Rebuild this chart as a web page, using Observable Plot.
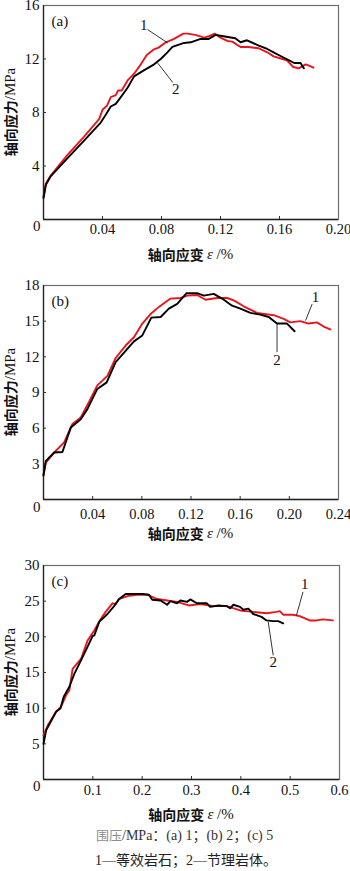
<!DOCTYPE html>
<html>
<head>
<meta charset="utf-8">
<script src="https://cdn.jsdelivr.net/npm/d3@7"></script>
<script src="https://cdn.jsdelivr.net/npm/@observablehq/plot@0.6"></script>
<style>
  html, body { margin: 0; padding: 0; background: #fff; }
  #wrap { position: relative; width: 350px; height: 871px; overflow: hidden; }
  .panel { position: absolute; left: 0; }
  .panel text { font-family: "Liberation Serif", "Times New Roman", serif; }
  .cap { position: absolute; left: 96px; font-family: "Liberation Serif", "Noto Sans CJK SC", serif; font-size: 14px; white-space: nowrap; }
</style>
</head>
<body>
<div id="wrap"></div>
<script>
// ---------- Panel (a): confining pressure 1 MPa ----------
const a1Strain = [0, 0.0016, 0.005, 0.016, 0.0275, 0.0377, 0.040, 0.043, 0.0456, 0.049, 0.0506, 0.053, 0.057, 0.0614, 0.066, 0.070, 0.0745, 0.078, 0.083, 0.0885, 0.0948, 0.0975, 0.103, 0.109, 0.112, 0.116, 0.120, 0.1246, 0.128, 0.1336, 0.139, 0.146, 0.1517, 0.156, 0.162, 0.165, 0.1693, 0.173, 0.1754, 0.1777, 0.180, 0.183];
const a1Stress = [1.7, 2.7, 3.3, 4.8, 6.2, 7.5, 8.2, 8.5, 9.15, 9.3, 9.65, 9.65, 10.4, 10.9, 11.6, 12.3, 12.7, 12.85, 13.25, 13.5, 13.9, 13.9, 13.8, 13.6, 13.7, 13.9, 13.6, 13.35, 13.3, 12.9, 12.9, 12.8, 12.5, 12.2, 12.0, 11.9, 11.4, 11.3, 11.45, 11.6, 11.5, 11.35];
const a2Strain = [0, 0.0016, 0.005, 0.016, 0.0275, 0.0388, 0.042, 0.0456, 0.049, 0.0524, 0.057, 0.0614, 0.068, 0.075, 0.0795, 0.084, 0.0874, 0.0953, 0.0998, 0.1065, 0.112, 0.1167, 0.122, 0.130, 0.1336, 0.138, 0.146, 0.1517, 0.156, 0.162, 0.1665, 0.170, 0.1743, 0.1754, 0.1765];
const a2Stress = [1.6, 2.6, 3.25, 4.55, 5.9, 7.25, 7.8, 8.45, 8.65, 9.15, 9.85, 10.7, 11.15, 11.6, 12.0, 12.5, 12.9, 13.2, 13.25, 13.5, 13.5, 13.8, 13.7, 13.55, 13.25, 13.4, 13.0, 12.75, 12.5, 12.15, 11.9, 11.7, 11.7, 11.5, 11.3];
const aXTicks = [0.04, 0.08, 0.12, 0.16, 0.20];
const aYTicks = [4, 8, 12, 16];

// ---------- Panel (b): confining pressure 2 MPa ----------
const b1Strain = [0, 0.0019, 0.0087, 0.0168, 0.0235, 0.0303, 0.037, 0.0438, 0.052, 0.0587, 0.0668, 0.0736, 0.0804, 0.0871, 0.0939, 0.1033, 0.1115, 0.1169, 0.125, 0.1318, 0.1412, 0.1494, 0.1548, 0.1629, 0.1737, 0.1873, 0.1954, 0.2008, 0.209, 0.2157, 0.2225, 0.2279, 0.2333];
const b1Stress = [2.1, 3.1, 3.95, 4.8, 6.35, 6.9, 8.2, 9.6, 10.4, 11.9, 12.95, 13.65, 14.8, 15.6, 16.2, 16.9, 16.95, 17.15, 17.2, 16.8, 16.95, 16.95, 16.75, 16.25, 15.7, 15.5, 15.2, 14.9, 15.0, 14.8, 14.9, 14.55, 14.3];
const b2Strain = [0, 0.0019, 0.0087, 0.0154, 0.0222, 0.0303, 0.0357, 0.0438, 0.0514, 0.0587, 0.0668, 0.0736, 0.0804, 0.0877, 0.0953, 0.102, 0.1088, 0.1164, 0.125, 0.1304, 0.1385, 0.1453, 0.1534, 0.1602, 0.1683, 0.1764, 0.1832, 0.19, 0.1981, 0.2043];
const b2Stress = [2.0, 3.25, 3.95, 4.0, 6.05, 6.75, 7.6, 9.3, 9.85, 11.55, 12.5, 13.3, 13.8, 15.3, 15.35, 16.05, 16.45, 17.35, 17.35, 17.15, 17.3, 16.9, 16.3, 16.05, 15.7, 15.55, 15.35, 14.8, 14.8, 14.15];
const bXTicks = [0.04, 0.08, 0.12, 0.16, 0.20, 0.24];
const bYTicks = [3, 6, 9, 12, 15, 18];

// ---------- Panel (c): confining pressure 5 MPa ----------
const c1Strain = [0, 0.0087, 0.0255, 0.0356, 0.0457, 0.0524, 0.059, 0.076, 0.0894, 0.1028, 0.116, 0.126, 0.1397, 0.1465, 0.1532, 0.17, 0.19, 0.21, 0.2304, 0.2506, 0.2707, 0.2943, 0.3178, 0.345, 0.3716, 0.3984, 0.4253, 0.452, 0.4723, 0.479, 0.4858, 0.5059, 0.5194, 0.5395, 0.553, 0.5664, 0.5865];
const c1Stress = [6.2, 7.6, 9.5, 10.2, 11.8, 12.5, 15.5, 16.9, 19.5, 20.9, 22.5, 23.5, 24.7, 24.6, 25.3, 25.7, 25.9, 25.9, 25.3, 25.1, 24.9, 24.4, 24.6, 24.3, 24.3, 23.7, 23.5, 23.3, 23.5, 23.6, 23.1, 23.1, 22.9, 22.3, 22.3, 22.45, 22.3];
const c2Strain = [0, 0.0054, 0.0255, 0.0343, 0.041, 0.0524, 0.0625, 0.076, 0.0907, 0.0994, 0.103, 0.1129, 0.1297, 0.1431, 0.1532, 0.1666, 0.1834, 0.2002, 0.2137, 0.2204, 0.2372, 0.2506, 0.2573, 0.2707, 0.2775, 0.2909, 0.2976, 0.311, 0.3312, 0.3379, 0.3547, 0.3715, 0.3782, 0.385, 0.3984, 0.405, 0.4152, 0.4253, 0.442, 0.452, 0.4656, 0.4757, 0.4858];
const c2Stress = [5.0, 6.9, 9.5, 9.95, 11.6, 13.0, 14.8, 16.7, 18.8, 20.1, 20.2, 22.1, 23.2, 24.3, 25.3, 26.0, 26.0, 26.0, 25.9, 25.2, 25.1, 24.5, 25.0, 24.7, 25.1, 24.9, 25.25, 24.7, 24.7, 24.2, 24.4, 24.3, 24.0, 24.5, 24.2, 23.8, 23.95, 23.2, 22.8, 22.3, 22.2, 22.2, 21.9];
const cXTicks = [0.1, 0.2, 0.3, 0.4, 0.5, 0.6];
const cYTicks = [5, 10, 15, 20, 25, 30];

// ---------- Text ----------
const panelLetters = ["(a)", "(b)", "(c)"];
const curveNames = ["1", "2"];
const yLabelCJK = "轴向应力";
const yLabelUnit = "/MPa";
const xLabelCJK = "轴向应变";
const xLabelSym = "ε";
const xLabelUnit = " /%";
const captionLine1Gray = "围压";
const captionLine1 = "/MPa：(a) 1；(b) 2；(c) 5";
const captionLine2 = "1—等效岩石；2—节理岩体。";

// annotation anchors (label positions and leader lines), data units
const aNotes = {lab: [[0.068, 14.5], [0.0896, 9.75]], lead: [[0.0706, 14.2, 0.0842, 13.2], [0.0876, 10.25, 0.0774, 11.7]]};
const bNotes = {lab: [[0.2213, 17.0], [0.190, 11.7]], lead: [[0.2186, 16.45, 0.2132, 15.05], [0.190, 12.4, 0.190, 14.75]]};
const cNotes = {lab: [[0.5295, 27.4], [0.4656, 16.5]], lead: [[0.526, 26.3, 0.5127, 23.0], [0.4656, 17.4, 0.4555, 22.1]]};

const RED = "#e8161b";
const SERIF = "Liberation Serif";
const CJK = "Noto Sans CJK SC";
const FS = 14.5;

function zip(xs, ys) { return xs.map((x, i) => ({x, y: ys[i]})); }

function panel({top, height, mt, mb, ml, mr, xMax, yMax, xTicks, yTicks, s1, s2, notes, letter, xLabY, tickPad, zeroDy}) {
  const innerH = height - mt - mb;
  const innerW = 350 - ml - mr;
  const labs = notes.lab.map((p, i) => ({x: p[0], y: p[1], t: curveNames[i]}));
  const leads = notes.lead.map(l => ({x1: l[0], y1: l[1], x2: l[2], y2: l[3]}));
  const chart = Plot.plot({
    width: 350, height,
    marginTop: mt, marginBottom: mb, marginLeft: ml, marginRight: mr,
    x: {domain: [0, xMax]},
    y: {domain: [0, yMax]},
    style: {fontSize: FS + "px", color: "#111", background: "#fff", overflow: "visible"},
    marks: [
      Plot.frame({stroke: "#6e6e6e", strokeWidth: 1.2}),
      Plot.ruleX([0], {stroke: "#222", strokeWidth: 1.3}),
      Plot.ruleY([0], {stroke: "#222", strokeWidth: 1.3}),
      Plot.tickX(xTicks.slice(0, -1), {x: d => d, insetTop: innerH - 3, stroke: "#333"}),
      Plot.tickY(yTicks.slice(0, -1), {y: d => d, insetRight: innerW - 3, stroke: "#333"}),
      Plot.axisX(xTicks, {tickSize: 0, tickPadding: tickPad, label: null, fontFamily: SERIF, fontSize: FS,
        tickFormat: d => xMax < 0.5 ? d3.format(".2f")(d) : d3.format(".1f")(d)}),
      Plot.axisY(yTicks, {tickSize: 0, tickPadding: 4, label: null, fontFamily: SERIF, fontSize: FS + 0.5}),
      Plot.text(["0"], {x: 0, y: 0, dx: -3, dy: zeroDy, textAnchor: "end", lineAnchor: "top", fontFamily: SERIF, fontSize: FS + 0.5}),
      Plot.line(zip(s1[0], s1[1]), {x: "x", y: "y", stroke: RED, strokeWidth: 1.9}),
      Plot.line(zip(s2[0], s2[1]), {x: "x", y: "y", stroke: "#000", strokeWidth: 1.9}),
      Plot.link(leads, {x1: "x1", y1: "y1", x2: "x2", y2: "y2", stroke: "#000", strokeWidth: 0.8}),
      Plot.text(labs, {x: "x", y: "y", text: "t", fontFamily: SERIF, fontSize: 15}),
      Plot.text([letter], {frameAnchor: "top-left", dx: 8, dy: 10, textAnchor: "start", lineAnchor: "top", fontFamily: SERIF, fontSize: 15})
    ]
  });
  // axis titles with mixed fonts
  const svg = d3.select(chart);
  const cy = mt + innerH / 2;
  const cx = ml + innerW / 2;
  const yl = svg.append("text")
    .attr("transform", `translate(10,${cy}) rotate(-90)`)
    .attr("text-anchor", "middle").attr("dominant-baseline", "central")
    .attr("fill", "#111").attr("font-size", 15);
  yl.append("tspan").attr("font-family", CJK).attr("font-weight", 700).attr("font-size", 14).text(yLabelCJK);
  yl.append("tspan").attr("font-family", SERIF).text(yLabelUnit);
  const xl = svg.append("text")
    .attr("x", cx).attr("y", xLabY)
    .attr("text-anchor", "middle").attr("dominant-baseline", "central")
    .attr("fill", "#111").attr("font-size", 15);
  xl.append("tspan").attr("font-family", CJK).attr("font-weight", 700).attr("font-size", 14).text(xLabelCJK + " ");
  xl.append("tspan").attr("font-family", SERIF).attr("font-style", "italic").text(xLabelSym);
  xl.append("tspan").attr("font-family", SERIF).text(xLabelUnit);
  chart.classList.add("panel");
  chart.style.top = top + "px";
  return chart;
}

const wrap = document.getElementById("wrap");
wrap.appendChild(panel({top: 0, height: 270, mt: 5, mb: 51, ml: 43, mr: 12, xMax: 0.20, yMax: 16,
  xTicks: aXTicks, yTicks: aYTicks, s1: [a1Strain, a1Stress], s2: [a2Strain, a2Stress], notes: aNotes, letter: panelLetters[0],
  xLabY: 254, tickPad: 4, zeroDy: 1}));
wrap.appendChild(panel({top: 270, height: 290, mt: 15, mb: 61, ml: 43, mr: 12, xMax: 0.24, yMax: 18,
  xTicks: bXTicks, yTicks: bYTicks, s1: [b1Strain, b1Stress], s2: [b2Strain, b2Stress], notes: bNotes, letter: panelLetters[1],
  xLabY: 263, tickPad: 9, zeroDy: 2}));
wrap.appendChild(panel({top: 560, height: 262, mt: 5, mb: 43, ml: 43, mr: 11, xMax: 0.6, yMax: 30,
  xTicks: cXTicks, yTicks: cYTicks, s1: [c1Strain, c1Stress], s2: [c2Strain, c2Stress], notes: cNotes, letter: panelLetters[2],
  xLabY: 254, tickPad: 5, zeroDy: 1}));

const cap1 = document.createElement("div");
cap1.className = "cap";
cap1.style.top = "824px";
cap1.style.color = "#333";
cap1.innerHTML = `<span style="color:#8c8c8c;font-family:'Noto Sans CJK SC',sans-serif;font-size:13px">${captionLine1Gray}</span>${captionLine1}`;
wrap.appendChild(cap1);
const cap2 = document.createElement("div");
cap2.className = "cap";
cap2.style.top = "849px";
cap2.style.left = "95px";
cap2.style.color = "#222";
cap2.textContent = captionLine2;
wrap.appendChild(cap2);
</script>
</body>
</html>
